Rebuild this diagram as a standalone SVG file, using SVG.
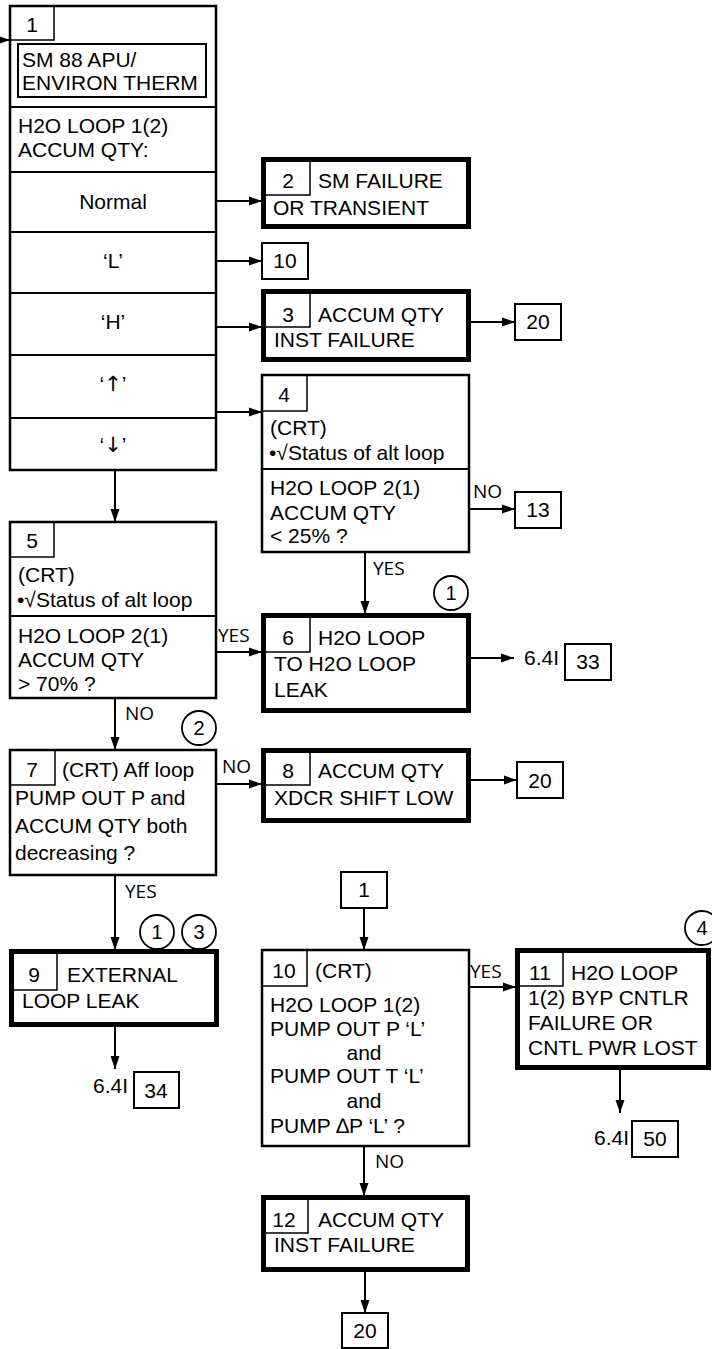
<svg xmlns="http://www.w3.org/2000/svg" width="712" height="1349" viewBox="0 0 712 1349">
<style>
text{font-family:"Liberation Sans",Arial,sans-serif;font-size:21px;fill:#000}
.c{text-anchor:middle}
.lb{font-family:"Open Sans","DejaVu Sans",sans-serif;font-size:19px}
.cn{font-size:20px}
.ar{font-family:"DejaVu Sans",sans-serif;font-size:21px}
.thin{fill:#fff;stroke:#000;stroke-width:2.5}
.thick{fill:#fff;stroke:#000;stroke-width:5}
.ln{fill:none;stroke:#000;stroke-width:2}
.nb{fill:none;stroke:#000;stroke-width:1.5}
.cir{fill:#fff;stroke:#000;stroke-width:1.8}
.arr{fill:none;stroke:#000;stroke-width:2;marker-end:url(#ah)}
</style>
<defs>
<marker id="ah" markerUnits="userSpaceOnUse" markerWidth="14" markerHeight="10" refX="13" refY="5" orient="auto">
<path d="M0,0.5 L13,5 L0,9.5 z" fill="#000"/>
</marker>
</defs>
<rect width="712" height="1349" fill="#fff"/>

<g id="connectors">
<line class="arr" x1="0" y1="40" x2="10" y2="40"/>
<line class="arr" x1="217" y1="201" x2="262" y2="201"/>
<line class="arr" x1="217" y1="261" x2="262" y2="261"/>
<line class="arr" x1="217" y1="327" x2="262" y2="327"/>
<line class="arr" x1="217" y1="412" x2="262" y2="412"/>
<line class="arr" x1="471" y1="322" x2="515" y2="322"/>
<line class="arr" x1="470" y1="509" x2="515" y2="509"/>
<line class="arr" x1="365" y1="553" x2="365" y2="614"/>
<line class="arr" x1="115" y1="470" x2="115" y2="522"/>
<line class="arr" x1="217" y1="652" x2="262" y2="652"/>
<line class="arr" x1="471" y1="658" x2="514" y2="658"/>
<line class="arr" x1="115" y1="699" x2="115" y2="750"/>
<line class="arr" x1="217" y1="784" x2="262" y2="784"/>
<line class="arr" x1="471" y1="780" x2="517" y2="780"/>
<line class="arr" x1="115" y1="876" x2="115" y2="950"/>
<line class="arr" x1="115" y1="1027" x2="115" y2="1069"/>
<line class="arr" x1="364" y1="908" x2="364" y2="950"/>
<line class="arr" x1="470" y1="987" x2="516" y2="987"/>
<line class="arr" x1="620" y1="1070" x2="620" y2="1113"/>
<line class="arr" x1="364" y1="1147" x2="364" y2="1196"/>
<line class="arr" x1="365" y1="1272" x2="365" y2="1313"/>
<text class="lb" x="473" y="498">NO</text>
<text class="lb" x="373" y="575">YES</text>
<text class="lb" x="218" y="642">YES</text>
<text class="lb" x="125" y="720">NO</text>
<text class="lb" x="222" y="773">NO</text>
<text class="lb" x="125" y="898">YES</text>
<text class="lb" x="470" y="978">YES</text>
<text class="lb" x="375" y="1168">NO</text>
</g>

<g id="node1">
<rect class="thin" x="10" y="6" width="206" height="464"/>
<path class="nb" d="M10,40 H54 V6"/>
<text class="c" x="32" y="32">1</text>
<rect class="ln" x="18" y="44" width="188" height="53"/>
<text x="22" y="67">SM 88 APU/</text>
<text x="22" y="90">ENVIRON THERM</text>
<line class="ln" x1="10" y1="107" x2="216" y2="107"/>
<text x="18" y="133">H2O LOOP 1(2)</text>
<text x="18" y="157">ACCUM QTY:</text>
<line class="ln" x1="10" y1="172" x2="216" y2="172"/>
<text class="c" x="113" y="209">Normal</text>
<line class="ln" x1="10" y1="232" x2="216" y2="232"/>
<text class="c" x="113" y="268">‘L’</text>
<line class="ln" x1="10" y1="293" x2="216" y2="293"/>
<text class="c" x="113" y="329">‘H’</text>
<line class="ln" x1="10" y1="355" x2="216" y2="355"/>
<text class="c" x="113" y="391">‘<tspan class="ar">↑</tspan>’</text>
<line class="ln" x1="10" y1="418" x2="216" y2="418"/>
<text class="c" x="113" y="452">‘<tspan class="ar">↓</tspan>’</text>
</g>

<g id="node2">
<rect class="thick" x="263.5" y="159.5" width="205" height="67"/>
<path class="nb" d="M263,195 H310 V159"/>
<text class="c" x="288" y="188">2</text>
<text x="318" y="188">SM FAILURE</text>
<text x="273" y="215">OR TRANSIENT</text>
</g>

<g id="ref10a">
<rect class="ln" x="262" y="243" width="46" height="36"/>
<text class="c" x="285" y="268">10</text>
</g>

<g id="node3">
<rect class="thick" x="263.5" y="291.5" width="205" height="68"/>
<path class="nb" d="M263,327 H310 V291"/>
<text class="c" x="288" y="322">3</text>
<text x="318" y="322">ACCUM QTY</text>
<text x="274" y="347">INST FAILURE</text>
</g>

<g id="ref20a">
<rect class="ln" x="515" y="304" width="46" height="36"/>
<text class="c" x="538" y="329">20</text>
</g>

<g id="node4">
<rect class="thin" x="262" y="375" width="207" height="177"/>
<path class="nb" d="M262,411 H307 V375"/>
<text class="c" x="284" y="402">4</text>
<text x="270" y="435">(CRT)</text>
<text x="269" y="460">•√Status of alt loop</text>
<line class="ln" x1="262" y1="469" x2="469" y2="469"/>
<text x="270" y="495">H2O LOOP 2(1)</text>
<text x="270" y="520">ACCUM QTY</text>
<text x="270" y="543">&lt; 25% ?</text>
</g>

<g id="ref13">
<rect class="ln" x="515" y="492" width="46" height="36"/>
<text class="c" x="538" y="517">13</text>
</g>

<g id="note1a">
<circle class="cir" cx="451" cy="593" r="17"/>
<text class="c cn" x="451" y="600">1</text>
</g>

<g id="node5">
<rect class="thin" x="10" y="522" width="206" height="176"/>
<path class="nb" d="M10,557 H54 V522"/>
<text class="c" x="32" y="548">5</text>
<text x="18" y="582">(CRT)</text>
<text x="17" y="607">•√Status of alt loop</text>
<line class="ln" x1="10" y1="616" x2="216" y2="616"/>
<text x="18" y="643">H2O LOOP 2(1)</text>
<text x="18" y="667">ACCUM QTY</text>
<text x="18" y="691">&gt; 70% ?</text>
</g>

<g id="node6">
<rect class="thick" x="263.5" y="615.5" width="205" height="95"/>
<path class="nb" d="M263,652 H310 V615"/>
<text class="c" x="288" y="645">6</text>
<text x="318" y="645">H2O LOOP</text>
<text x="274" y="671">TO H2O LOOP</text>
<text x="274" y="697">LEAK</text>
</g>

<g id="ref33">
<text x="524" y="665">6.4I</text>
<rect class="ln" x="565" y="644" width="46" height="36"/>
<text class="c" x="588" y="669">33</text>
</g>

<g id="note2">
<circle class="cir" cx="199" cy="728" r="17"/>
<text class="c cn" x="199" y="735">2</text>
</g>

<g id="node7">
<rect class="thin" x="10" y="750" width="206" height="125"/>
<path class="nb" d="M10,785 H55 V750"/>
<text class="c" x="32" y="777">7</text>
<text x="62" y="777">(CRT) Aff loop</text>
<text x="15" y="805">PUMP OUT P and</text>
<text x="15" y="833">ACCUM QTY both</text>
<text x="15" y="860">decreasing ?</text>
</g>

<g id="node8">
<rect class="thick" x="263.5" y="750.5" width="205" height="70"/>
<path class="nb" d="M263,785 H310 V750"/>
<text class="c" x="288" y="778">8</text>
<text x="318" y="778">ACCUM QTY</text>
<text x="274" y="805">XDCR SHIFT LOW</text>
</g>

<g id="ref20b">
<rect class="ln" x="517" y="762" width="46" height="36"/>
<text class="c" x="540" y="788">20</text>
</g>

<g id="notes13">
<circle class="cir" cx="157" cy="932" r="17"/>
<text class="c cn" x="157" y="939">1</text>
<circle class="cir" cx="199" cy="932" r="17"/>
<text class="c cn" x="199" y="939">3</text>
</g>

<g id="node9">
<rect class="thick" x="11.5" y="951.5" width="205" height="73"/>
<path class="nb" d="M11,990 H57 V951"/>
<text class="c" x="34" y="982">9</text>
<text x="67" y="982">EXTERNAL</text>
<text x="22" y="1008">LOOP LEAK</text>
</g>

<g id="ref34">
<text x="93" y="1093">6.4I</text>
<rect class="ln" x="134" y="1072" width="45" height="36"/>
<text class="c" x="156" y="1098">34</text>
</g>

<g id="ref1b">
<rect class="ln" x="341" y="872" width="46" height="36"/>
<text class="c" x="364" y="897">1</text>
</g>

<g id="node10">
<rect class="thin" x="262" y="950" width="207" height="196"/>
<path class="nb" d="M262,986 H307 V950"/>
<text class="c" x="284" y="978">10</text>
<text x="315" y="978">(CRT)</text>
<text x="270" y="1012">H2O LOOP 1(2)</text>
<text x="270" y="1036">PUMP OUT P ‘L’</text>
<text class="c" x="364" y="1060">and</text>
<text x="270" y="1083">PUMP OUT T ‘L’</text>
<text class="c" x="364" y="1108">and</text>
<text x="270" y="1133">PUMP ∆P ‘L’ ?</text>
</g>

<g id="node11">
<rect class="thick" x="517.5" y="950.5" width="191" height="117"/>
<path class="nb" d="M517,986 H563 V950"/>
<text class="c" x="540" y="980">11</text>
<text x="571" y="980">H2O LOOP</text>
<text x="528" y="1005">1(2) BYP CNTLR</text>
<text x="528" y="1030">FAILURE OR</text>
<text x="528" y="1055">CNTL PWR LOST</text>
</g>

<g id="note4">
<circle class="cir" cx="702" cy="928" r="17"/>
<text class="c cn" x="702" y="935">4</text>
</g>

<g id="ref50">
<text x="594" y="1145">6.4I</text>
<rect class="ln" x="632" y="1121" width="46" height="36"/>
<text class="c" x="655" y="1146">50</text>
</g>

<g id="node12">
<rect class="thick" x="263.5" y="1197.5" width="204" height="72"/>
<path class="nb" d="M263,1233 H308 V1197"/>
<text class="c" x="284" y="1227">12</text>
<text x="318" y="1227">ACCUM QTY</text>
<text x="274" y="1252">INST FAILURE</text>
</g>

<g id="ref20c">
<rect class="ln" x="342" y="1313" width="46" height="35"/>
<text class="c" x="365" y="1338">20</text>
</g>
</svg>
